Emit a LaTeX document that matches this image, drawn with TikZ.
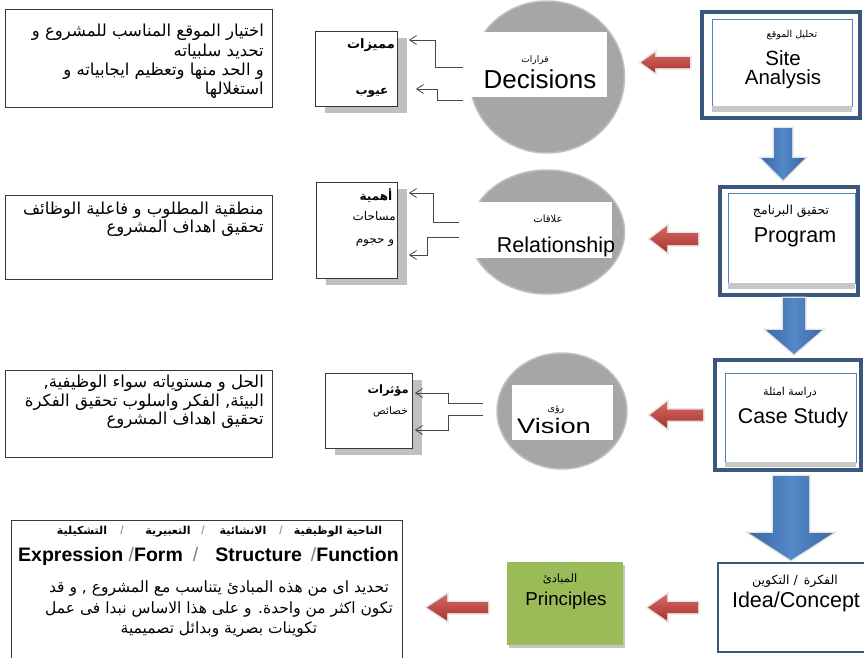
\documentclass[tikz,border=0pt]{standalone}
\usepackage{graphicx}
\usepackage{fontspec}
\setmainfont{Liberation Sans}
\newfontfamily\arabicfont[Script=Arabic]{DejaVu Sans}
\TeXXeTstate=1
\usetikzlibrary{arrows.meta,shapes.geometric,shadows}

\definecolor{framenavy}{RGB}{59,87,125}
\definecolor{lineblue}{RGB}{79,129,189}
\definecolor{circgray}{RGB}{166,166,166}
\definecolor{shadowgray}{RGB}{192,192,192}
\definecolor{bandgray}{RGB}{200,200,200}
\definecolor{redlight}{RGB}{214,104,98}
\definecolor{reddark}{RGB}{168,52,48}
\definecolor{bluemid}{RGB}{84,136,200}
\definecolor{blueedge}{RGB}{60,105,165}
\definecolor{principlegreen}{RGB}{155,187,89}
\definecolor{boxline}{RGB}{55,55,55}
\definecolor{connline}{RGB}{70,70,70}

\newcommand{\rtltext}[1]{\beginR #1\endR}
\newcommand{\fsz}[1]{\fontsize{#1}{#1}\selectfont}
\newcommand{\thinslash}{{\mdseries\color{gray}/}}

% left-pointing block arrow: tip x, mid y, head-back x, tail x, head half-height, shaft half-height
\newcommand{\leftblockarrow}[6]{%
  \path[redblock] (#1,#2) -- (#3,#2-#5) -- (#3,#2-#6) -- (#4,#2-#6) -- (#4,#2+#6)
    -- (#3,#2+#6) -- (#3,#2+#5) -- cycle;}
% down-pointing block arrow: centre x, shaft top y, head top y, tip y, shaft half-width, head half-width
\newcommand{\downblockarrow}[6]{%
  \path[blueblock] (#1-#5,#2) -- (#1+#5,#2) -- (#1+#5,#3) -- (#1+#6,#3) -- (#1,#4)
    -- (#1-#6,#3) -- (#1-#5,#3) -- cycle;}

\begin{document}
\begin{tikzpicture}[x=1pt,y=-1pt,
  notebox/.style={draw=boxline, line width=0.9pt, fill=white, anchor=north west, inner sep=0pt},
  tagbox/.style={draw=boxline, line width=0.9pt, fill=white, anchor=north west, inner sep=0pt,
    drop shadow={shadow xshift=10pt, shadow yshift=-7pt, fill=shadowgray, opacity=1}},
  ovalnode/.style={ellipse, fill=circgray, draw=circgray!70!white, line width=1.5pt, inner sep=0pt},
  whitelabel/.style={fill=white, inner sep=0pt},
  framebox/.style={draw=framenavy, line width=4.5pt, fill=white, inner sep=0pt},
  innerbox/.style={draw=lineblue, line width=0.8pt, fill=white, inner sep=0pt},
  arabic/.style={font=\arabicfont\fsz{#1}, inner sep=0pt},
  arabicbold/.style={font=\arabicfont\bfseries\fsz{#1}, inner sep=0pt},
  latin/.style={font=\fsz{#1}, inner sep=0pt},
  latinbold/.style={font=\bfseries\fsz{#1}, inner sep=0pt},
  conn/.style={draw=connline, line width=0.8pt, -{Straight Barb[length=7pt,width=9pt]}},
  redblock/.style={preaction={draw=gray!22, line width=3pt, line join=miter},
    top color=redlight, bottom color=reddark},
  blueblock/.style={preaction={draw=gray!22, line width=3pt, line join=miter},
    left color=blueedge, right color=blueedge, middle color=bluemid},
]
\useasboundingbox (0,0) rectangle (864,657);
\fill[white] (0,0) rectangle (864,657);

% ---------- explanatory notes on the left ----------
\node[notebox, minimum width=267, minimum height=98] (note1) at (5,9) {};
\node[inner sep=0pt, align=right, anchor=north east,
  font=\arabicfont\fontsize{16.5}{19.3}\selectfont] (note1txt) at (264,24)
  {\rtltext{اختيار الموقع المناسب للمشروع و}\\\rtltext{تحديد سلبياته}\\
   \rtltext{و الحد منها وتعظيم ايجابياته و}\\\rtltext{استغلالها}};

\node[notebox, minimum width=267, minimum height=84] (note2) at (5,195) {};
\node[inner sep=0pt, align=right, anchor=north east,
  font=\arabicfont\fontsize{16.5}{18}\selectfont] (note2txt) at (264,202)
  {\rtltext{منطقية المطلوب و فاعلية الوظائف}\\\rtltext{تحقيق اهداف المشروع}};

\node[notebox, minimum width=267, minimum height=87] (note3) at (5,370) {};
\node[inner sep=0pt, align=right, anchor=north east,
  font=\arabicfont\fontsize{16.5}{18.5}\selectfont] (note3txt) at (264,375)
  {\rtltext{الحل و مستوياته سواء الوظيفية,}\\\rtltext{البيئة, الفكر واسلوب تحقيق الفكرة}\\
   \rtltext{تحقيق اهداف المشروع}};

\node[notebox, minimum width=391, minimum height=150] (note4) at (11,520) {};
\node[arabicbold=11, anchor=base] (hd1) at (338,534) {\rtltext{الناحية الوظيفية}};
\node[latin=12, text=gray, anchor=base] (hs1) at (281,534) {/};
\node[arabicbold=11, anchor=base] (hd2) at (243,534) {\rtltext{الانشائية}};
\node[latin=12, text=gray, anchor=base] (hs2) at (203,534) {/};
\node[arabicbold=11, anchor=base] (hd3) at (168,534) {\rtltext{التعبيرية}};
\node[latin=12, text=gray, anchor=base] (hs3) at (122,534) {/};
\node[arabicbold=11, anchor=base] (hd4) at (82,534) {\rtltext{التشكيلية}};
\node[latinbold=19.5, anchor=base west] (facets) at (18,561)
  {Expression\hspace{5.4pt}\thinslash Form\hspace{10pt}\thinslash\hspace{17pt}Structure\hspace{9pt}\thinslash Function};
\node[inner sep=0pt, align=center, anchor=north,
  font=\arabicfont\fontsize{15.5}{20.5}\selectfont] (note4txt) at (219,581)
  {\rtltext{تحديد اى من  هذه المبادئ يتناسب مع المشروع , و قد}\\
   \rtltext{تكون اكثر من واحدة. و على هذا الاساس نبدا فى عمل}\\
   \rtltext{تكوينات بصرية وبدائل تصميمية}};

% ---------- tag boxes ----------
\node[tagbox, minimum width=82, minimum height=75] (tag1) at (315,31) {};
\node[arabicbold=13, anchor=base east] (tag1a) at (395,48) {\rtltext{مميزات}};
\node[arabicbold=12, anchor=base] (tag1b) at (372,94) {\rtltext{عيوب}};

\node[tagbox, minimum width=81, minimum height=96] (tag2) at (316,182) {};
\node[arabicbold=12, anchor=base] (tag2a) at (376,200) {\rtltext{أهمية}};
\node[arabic=12, anchor=base east] (tag2b) at (396,220) {\rtltext{مساحات}};
\node[arabic=12, anchor=base] (tag2c) at (375,243) {\rtltext{و حجوم}};

\node[tagbox, minimum width=87, minimum height=75] (tag3) at (325,373) {};
\node[arabicbold=11.5, anchor=base east] (tag3a) at (409,393) {\rtltext{مؤثرات}};
\node[arabic=10.5, anchor=base east] (tag3b) at (408,414) {\rtltext{خصائص}};

% ---------- grey ovals with their labels ----------
\node[ovalnode, minimum width=155, minimum height=152] (oval1) at (547,77) {};
\node[whitelabel, minimum width=144, minimum height=65] (lab1) at (535,64.5) {};
\node[arabic=9, anchor=base] (lab1ar) at (535,62) {\rtltext{قرارات}};
\node[latin=26, anchor=base] (lab1en) at (540,88) {Decisions};

\node[ovalnode, minimum width=155, minimum height=124] (oval2) at (547,232) {};
\node[whitelabel, minimum width=153, minimum height=56] (lab2) at (535.5,230) {};
\node[arabic=10, anchor=base] (lab2ar) at (548,222) {\rtltext{علاقات}};
\node[latin=21.5, anchor=base] (lab2en) at (556,252) {Relationship};

\node[ovalnode, minimum width=130, minimum height=116] (oval3) at (562,411) {};
\node[whitelabel, minimum width=101, minimum height=55] (lab3) at (562.5,412.5) {};
\node[arabic=9.5, anchor=base] (lab3ar) at (556,411) {\rtltext{رؤى}};
\node[latin=21, anchor=base] (lab3en) at (554,433) {\scalebox{1.3}[1]{Vision}};

% ---------- connectors from the labels to the tag boxes ----------
\draw[conn] (lab1.west |- 0,67) -- (435,67) |- ([xshift=11pt]tag1.east |- 0,40);
\draw[conn] (lab1.west |- 0,100) -- (437,100) |- ([xshift=18pt]tag1.east |- 0,89);
\draw[conn] (lab2.west |- 0,222) -- (433,222) |- ([xshift=11pt]tag2.east |- 0,193);
\draw[conn] (lab2.west |- 0,237) -- (427,237) |- ([xshift=11pt]tag2.east |- 0,255);
\draw[conn] ([xshift=-29pt]lab3.west |- 0,403) -- (448,403) |- ([xshift=2pt]tag3.east |- 0,393);
\draw[conn] ([xshift=-29pt]lab3.west |- 0,415) -- (448,415) |- ([xshift=2pt]tag3.east |- 0,430);

% ---------- framed stage boxes on the right ----------
\node[framebox, minimum width=158, minimum height=106] (site) at (781,65) {};
\node[innerbox, minimum width=140, minimum height=87] (siteIn) at (782,62.5) {};
\fill[bandgray] (siteIn.south west) rectangle ([yshift=-6pt]siteIn.south east);
\node[arabic=9.5, anchor=base] (siteAr) at (792,37) {\rtltext{تحليل الموقع}};
\node[inner sep=0pt, align=center, anchor=north, font=\fontsize{20.5}{19}\selectfont]
  (siteEn) at (783,50.5) {Site\\Analysis};

\node[framebox, minimum width=138, minimum height=108] (prog) at (789,241) {};
\node[innerbox, minimum width=127, minimum height=90] (progIn) at (791.5,238) {};
\fill[bandgray] (progIn.south west) rectangle ([yshift=-6pt]progIn.south east);
\node[arabic=12.5, anchor=base] (progAr) at (791,214) {\rtltext{تحقيق البرنامج}};
\node[latin=21.5, anchor=base] (progEn) at (795,242) {Program};

\node[framebox, minimum width=146, minimum height=110] (case) at (788,415) {};
\node[innerbox, minimum width=131, minimum height=89] (caseIn) at (790.5,417.5) {};
\fill[bandgray] (caseIn.south west) rectangle ([yshift=-5pt]caseIn.south east);
\node[arabic=11, anchor=base] (caseAr) at (790,395) {\rtltext{دراسة امثلة}};
\node[latin=21.3, anchor=base] (caseEn) at (793,423) {Case Study};

\node[draw=framenavy, line width=1.2pt, fill=white, inner sep=0pt,
  minimum width=152, minimum height=89] (idea) at (794,607.5) {};
\node[arabic=12.5, anchor=base] (ideaAr) at (795,584) {\rtltext{الفكرة\hspace{6pt}/\hspace{4pt}التكوين}};
\node[latin=21.5, anchor=base] (ideaEn) at (796,607.5) {Idea/Concept};

\node[fill=principlegreen, inner sep=0pt, minimum width=116, minimum height=83,
  drop shadow={shadow xshift=2pt, shadow yshift=-3pt, fill=gray!45, opacity=1}] (princ) at (565,603.5) {};
\node[arabic=11.5, anchor=base] (princAr) at (560,582) {\rtltext{المبادئ}};
\node[latin=18.7, anchor=base] (princEn) at (566,605.5) {Principles};

% ---------- block arrows ----------
\leftblockarrow{641}{62.5}{655}{690}{10}{5.5}
\leftblockarrow{650}{239}{667}{698}{13}{6}
\leftblockarrow{650}{415}{667}{703}{13}{5.5}
\leftblockarrow{648}{607.5}{667}{698}{13}{5.5}
\leftblockarrow{427}{607.5}{447}{488}{13}{5.5}

\downblockarrow{783}{128}{158}{180}{9}{22}
\downblockarrow{794}{298}{330}{354}{11}{28}
\downblockarrow{791}{476}{533}{560}{18}{42}
\end{tikzpicture}
\end{document}
